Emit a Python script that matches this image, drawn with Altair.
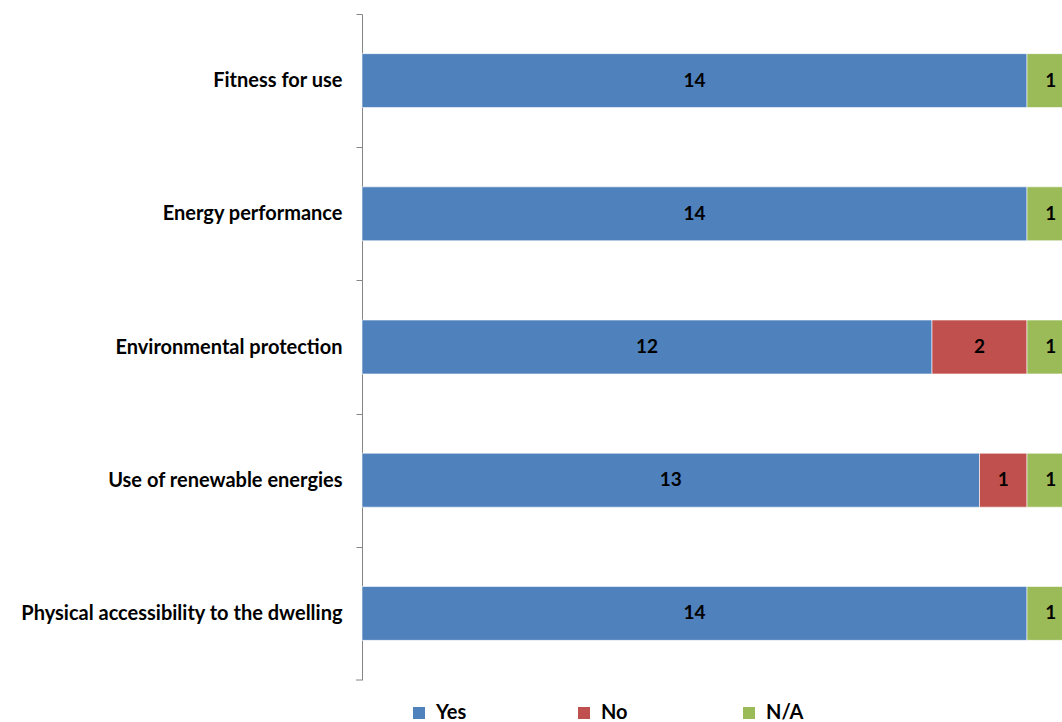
import altair as alt
import pandas as pd

categories = ["Fitness for use", "Energy performance", "Environmental protection",
              "Use of renewable energies", "Physical accessibility to the dwelling"]
responses = ["Yes", "No", "N/A"]
yes_counts = [14, 14, 12, 13, 14]
no_counts = [0, 0, 2, 1, 0]
na_counts = [1, 1, 1, 1, 1]
colors = ["#4F81BD", "#C0504D", "#9BBB59"]

rows = []
for i, c in enumerate(categories):
    for j, (r, vals) in enumerate(zip(responses, [yes_counts, no_counts, na_counts])):
        rows.append({"category": c, "response": r, "order": j, "count": vals[i]})
df = pd.DataFrame(rows)

FONT = "Lato"
W, H = 700, 666
step = H / 5
px_per_unit = 47.5

base = alt.Chart(df).transform_filter("datum.count > 0").transform_stack(
    stack="count", groupby=["category"], sort=[alt.SortField("order")], as_=["x0", "x1"]
).transform_calculate(mid="(datum.x0 + datum.x1) / 2")

xscale = alt.Scale(domain=[0, W / px_per_unit], nice=False, zero=True)
yscale = alt.Scale(domain=categories, paddingInner=0.595, paddingOuter=0.2975)

bars = base.mark_bar(clip=True, stroke="white", strokeWidth=0.6).encode(
    x=alt.X("x0:Q", scale=xscale, axis=None),
    x2="x1:Q",
    y=alt.Y("category:N", scale=yscale, sort=categories,
            axis=alt.Axis(title=None, labelFont=FONT, labelFontSize=20, labelFontWeight="bold",
                          labelColor="black", domainColor="#868686", tickColor="#868686",
                          tickSize=6, tickOffset=-step / 2, labelOffset=step / 2,
                          labelPadding=14, labelLimit=400)),
    color=alt.Color("response:N", scale=alt.Scale(domain=responses, range=colors),
                    legend=alt.Legend(title=None, orient="none", legendX=47, legendY=689,
                                      direction="horizontal", symbolType="square",
                                      symbolSize=144, symbolStrokeWidth=0,
                                      labelFont=FONT, labelFontSize=20, labelFontWeight="bold",
                                      labelColor="black", labelOffset=7, gridAlign="all",
                                      columnPadding=100)),
    order=alt.Order("order:Q"),
)

text = base.mark_text(font=FONT, fontSize=19, fontWeight="bold", color="black").encode(
    x=alt.X("mid:Q", scale=xscale),
    y=alt.Y("category:N", scale=yscale, sort=categories),
    text="count:Q",
)

bottom_tick = alt.Chart(pd.DataFrame({"a": [0]})).mark_rule(color="#868686").encode(
    x=alt.value(-6), x2=alt.value(0), y=alt.value(H)
)

chart = alt.layer(bars, text, bottom_tick).properties(
    width=W, height=H,
    autosize=alt.AutoSizeParams(type="none"),
    padding={"left": 362, "top": 14, "right": 0, "bottom": 42},
).configure_view(strokeWidth=0)

chart.save("out.html", embed_options={"renderer": "svg", "actions": False})
